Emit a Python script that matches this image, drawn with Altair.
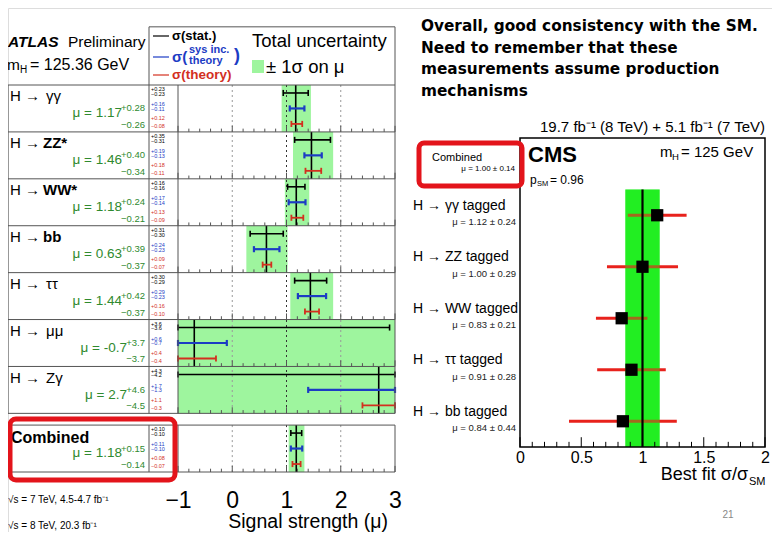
import altair as alt
import pandas as pd

# ===================== data =====================
atlas_channels = ["γγ", "ZZ*", "WW*", "bb", "ττ", "μμ", "Zγ", "Combined"]
atlas_mu       = [1.17, 1.46, 1.18, 0.63, 1.44, -0.7, 2.7, 1.18]
atlas_tot_up   = [0.28, 0.40, 0.24, 0.39, 0.42, 3.7, 4.6, 0.15]
atlas_tot_dn   = [0.26, 0.34, 0.21, 0.37, 0.37, 3.7, 4.5, 0.14]
atlas_stat_up  = [0.23, 0.35, 0.16, 0.31, 0.30, 3.6, 4.3, 0.10]
atlas_stat_dn  = [0.23, 0.31, 0.16, 0.30, 0.29, 3.6, 4.2, 0.10]
atlas_sys_up   = [0.16, 0.19, 0.17, 0.24, 0.29, 0.6, 1.7, 0.11]
atlas_sys_dn   = [0.11, 0.13, 0.14, 0.23, 0.23, 0.7, 1.3, 0.10]
atlas_th_up    = [0.12, 0.18, 0.13, 0.09, 0.16, 0.4, 1.1, 0.08]
atlas_th_dn    = [0.08, 0.11, 0.09, 0.07, 0.10, 0.4, 0.3, 0.07]
atlas_decimals = [2, 2, 2, 2, 2, 1, 1, 2]
atlas_bold     = [False, True, True, True, False, False, False, True]
atlas_ticks    = [-1, 0, 1, 2, 3]

cms_channels = ["H → γγ tagged", "H → ZZ tagged", "H → WW tagged",
                "H → ττ tagged", "H → bb tagged"]
cms_mu       = [1.12, 1.00, 0.83, 0.91, 0.84]
cms_err      = [0.24, 0.29, 0.21, 0.28, 0.44]
cms_comb_mu  = 1.00
cms_comb_err = 0.14
cms_ticks    = [0, 0.5, 1, 1.5, 2]

slide_lines = ["Overall, good consistency with the SM.",
               "Need to remember that these",
               "measurements assume production",
               "mechanisms"]

# ===================== styling =====================
FONT = "Liberation Sans"
BLACK = "#000000"
BLUE = "#1c3cc4"
RED = "#d3301f"
MUGREEN = "#2f8a2f"
ABAND = "#9ef59e"
CBAND = "#22ee22"
CRED = "#e8221c"
BOXRED = "#e3141b"
FRAME = "#555555"


def AX():
    return alt.Scale(domain=[-1, 3], range=[170, 387], nice=False, zero=False, clamp=True)


def AY():
    return alt.Scale(domain=[0, 8.25], range=[77, 464], nice=False, zero=False)


def CX():
    return alt.Scale(domain=[0, 2], range=[512, 757], nice=False, zero=False)


def CY():
    return alt.Scale(domain=[0, 6], range=[130, 439], nice=False, zero=False)


def label(text, x, y, size, color=BLACK, weight="normal", style="normal",
          align="left", font=FONT, baseline="middle"):
    return alt.Chart(pd.DataFrame({"t": [text]})).mark_text(
        align=align, baseline=baseline, font=font, fontSize=size,
        fontWeight=weight, fontStyle=style, color=color
    ).encode(x=alt.value(x), y=alt.value(y), text="t:N")


def seg(x1, x2, y, color, width):
    return alt.Chart(pd.DataFrame({"a": [0]})).mark_rule(
        color=color, strokeWidth=width
    ).encode(x=alt.value(x1), x2=alt.value(x2), y=alt.value(y))


def box(x1, x2, y1, y2, color, width, radius=0, fill=None):
    kw = dict(stroke=color, strokeWidth=width, cornerRadius=radius)
    if fill is None:
        kw["fillOpacity"] = 0
    else:
        kw["fill"] = fill
    return alt.Chart(pd.DataFrame({"a": [0]})).mark_rect(**kw).encode(
        x=alt.value(x1), x2=alt.value(x2), y=alt.value(y1), y2=alt.value(y2))


# ===================== ATLAS tables =====================
n = len(atlas_channels)
A = pd.DataFrame(dict(ch=atlas_channels, mu=atlas_mu, up=atlas_tot_up,
                      dn=atlas_tot_dn, dec=atlas_decimals, bold=atlas_bold))
A["r"] = [i + (0.25 if c == "Combined" else 0.0) for i, c in enumerate(atlas_channels)]
A["r1"] = A["r"] + 1
A["lo"] = A["mu"] - A["dn"]
A["hi"] = A["mu"] + A["up"]
A["mu_t"] = [f"μ = {m:.{d}f}" for m, d in zip(atlas_mu, atlas_decimals)]
A["up_t"] = [f"+{u:.{d}f}" for u, d in zip(atlas_tot_up, atlas_decimals)]
A["dn_t"] = [f"−{v:.{d}f}" for v, d in zip(atlas_tot_dn, atlas_decimals)]
A["y_lab"] = A["r"] + 0.24
A["y_comb"] = A["r"] + 0.28
A["y_mu"] = A["r"] + 0.60
A["y_up"] = A["r"] + 0.50
A["y_dn"] = A["r"] + 0.85
A["is_comb"] = A["ch"] == "Combined"

spec = [("stat", atlas_stat_up, atlas_stat_dn, 0.17, BLACK, 1.6, (0.09, 0.19)),
        ("sys", atlas_sys_up, atlas_sys_dn, 0.50, BLUE, 2.2, (0.41, 0.51)),
        ("theory", atlas_th_up, atlas_th_dn, 0.83, RED, 1.8, (0.71, 0.88))]
bars, caps, nums = [], [], []
for kind, up, dn, off, col, sw, (fu, fd) in spec:
    for i in range(n):
        r = A["r"][i]
        yc = r + off
        lo = atlas_mu[i] - dn[i]
        hi = atlas_mu[i] + up[i]
        bars.append(dict(lo=lo, hi=hi, y=yc, col=col, sw=sw))
        for xv in (lo, hi):
            caps.append(dict(x=xv, y0=yc - 0.065, y1=yc + 0.065, col=col, sw=sw))
        d = atlas_decimals[i]
        nums.append(dict(t=f"+{up[i]:.{d}f}", y=r + fu, col=col))
        nums.append(dict(t=f"−{dn[i]:.{d}f}", y=r + fd, col=col))
B = pd.DataFrame(bars)
Cp = pd.DataFrame(caps)
N = pd.DataFrame(nums)

segments = [(0, 7), (7.25, 8.25)]
grid = pd.DataFrame([dict(x=t, y0=a, y1=b) for t in atlas_ticks[1:-1] for a, b in segments])

row_bottoms = [float(b) for b in range(1, 8)] + [8.25]
tk = []
for b in row_bottoms:
    for k in range(21):
        xv = round(atlas_ticks[0] + 0.2 * k, 3)
        major = abs(xv - round(xv)) < 1e-9
        tk.append(dict(x=xv, y0=b - (0.13 if major else 0.07), y1=b))
TK = pd.DataFrame(tk)

hlines = pd.DataFrame({"y": [float(k) for k in range(8)] + [7.25, 8.25]})
head_top = -1.24
vseg_full = pd.DataFrame([dict(y0=head_top, y1=7), dict(y0=7.25, y1=8.25)])
vseg_rows = pd.DataFrame([dict(y0=0, y1=7), dict(y0=7.25, y1=8.25)])
edge_l = vseg_rows.assign(x=atlas_ticks[0])
edge_r = vseg_full.assign(x=atlas_ticks[-1])

atlas_axis = alt.Axis(orient="bottom", offset=-60, values=atlas_ticks,
                      labelExpr="replace('' + datum.value, '-', '−')",
                      labelFont=FONT, labelFontSize=23, labelColor=BLACK,
                      labelPadding=17, labelFlush=False, labelOverlap=False,
                      ticks=False, domain=False, grid=False, title=None)

L = []
# total-uncertainty bands (carries the ATLAS axis)
L.append(alt.Chart(A).mark_rect(color=ABAND).encode(
    x=alt.X("lo:Q", scale=AX(), axis=atlas_axis), x2="hi:Q",
    y=alt.Y("r:Q", scale=AY(), axis=None), y2="r1:Q"))
# dotted reference lines
L.append(alt.Chart(grid).mark_rule(strokeDash=[2, 3], strokeWidth=1).encode(
    x=alt.X("x:Q", scale=AX(), axis=None),
    y=alt.Y("y0:Q", scale=AY(), axis=None), y2="y1:Q",
    color=alt.condition("datum.x == 1", alt.value("#333333"), alt.value("#999999"))))
# per-row inner ticks
L.append(alt.Chart(TK).mark_rule(color="#555555", strokeWidth=1).encode(
    x=alt.X("x:Q", scale=AX(), axis=None),
    y=alt.Y("y0:Q", scale=AY(), axis=None), y2="y1:Q"))
# central value lines
L.append(alt.Chart(A).mark_rule(color=BLACK, strokeWidth=1.6).encode(
    x=alt.X("mu:Q", scale=AX(), axis=None),
    y=alt.Y("r:Q", scale=AY(), axis=None), y2="r1:Q"))
# error bars and caps
L.append(alt.Chart(B).mark_rule().encode(
    x=alt.X("lo:Q", scale=AX(), axis=None), x2="hi:Q",
    y=alt.Y("y:Q", scale=AY(), axis=None),
    color=alt.Color("col:N", scale=None),
    strokeWidth=alt.StrokeWidth("sw:Q", scale=None)))
L.append(alt.Chart(Cp).mark_rule().encode(
    x=alt.X("x:Q", scale=AX(), axis=None),
    y=alt.Y("y0:Q", scale=AY(), axis=None), y2="y1:Q",
    color=alt.Color("col:N", scale=None),
    strokeWidth=alt.StrokeWidth("sw:Q", scale=None)))
# table frame
L.append(alt.Chart(hlines).mark_rule(color=FRAME, strokeWidth=1).encode(
    x=alt.value(0), x2=alt.value(387), y=alt.Y("y:Q", scale=AY(), axis=None)))
L.append(alt.Chart(pd.DataFrame({"y": [head_top]})).mark_rule(color=FRAME, strokeWidth=1).encode(
    x=alt.value(141), x2=alt.value(387), y=alt.Y("y:Q", scale=AY(), axis=None)))
L.append(alt.Chart(vseg_rows).mark_rule(color=FRAME, strokeWidth=1).encode(
    x=alt.value(0), y=alt.Y("y0:Q", scale=AY(), axis=None), y2="y1:Q"))
L.append(alt.Chart(vseg_full).mark_rule(color=FRAME, strokeWidth=1).encode(
    x=alt.value(141), y=alt.Y("y0:Q", scale=AY(), axis=None), y2="y1:Q"))
L.append(alt.Chart(edge_l).mark_rule(color=FRAME, strokeWidth=1).encode(
    x=alt.X("x:Q", scale=AX(), axis=None),
    y=alt.Y("y0:Q", scale=AY(), axis=None), y2="y1:Q"))
L.append(alt.Chart(edge_r).mark_rule(color=FRAME, strokeWidth=1).encode(
    x=alt.X("x:Q", scale=AX(), axis=None),
    y=alt.Y("y0:Q", scale=AY(), axis=None), y2="y1:Q"))
# tiny numbers column
L.append(alt.Chart(N).mark_text(align="left", baseline="middle", font=FONT, fontSize=5.5).encode(
    x=alt.value(143), y=alt.Y("y:Q", scale=AY(), axis=None),
    color=alt.Color("col:N", scale=None), text="t:N"))
# channel labels
L.append(alt.Chart(A).transform_filter("!datum.is_comb").mark_text(
    align="left", baseline="middle", font=FONT, fontSize=15).encode(
    x=alt.value(2), y=alt.Y("y_lab:Q", scale=AY(), axis=None), text=alt.value("H →")))
L.append(alt.Chart(A).transform_filter("!datum.is_comb && datum.bold").mark_text(
    align="left", baseline="middle", font=FONT, fontSize=15, fontWeight="bold").encode(
    x=alt.value(35), y=alt.Y("y_lab:Q", scale=AY(), axis=None), text="ch:N"))
L.append(alt.Chart(A).transform_filter("!datum.is_comb && !datum.bold").mark_text(
    align="left", baseline="middle", font=FONT, fontSize=15).encode(
    x=alt.value(38), y=alt.Y("y_lab:Q", scale=AY(), axis=None), text="ch:N"))
L.append(alt.Chart(A).transform_filter("datum.is_comb").mark_text(
    align="left", baseline="middle", font=FONT, fontSize=16, fontWeight="bold").encode(
    x=alt.value(3), y=alt.Y("y_comb:Q", scale=AY(), axis=None), text="ch:N"))
# mu values with super/subscripts
L.append(alt.Chart(A).transform_filter("datum.dec == 2").mark_text(
    align="right", baseline="middle", font=FONT, fontSize=13.5, color=MUGREEN).encode(
    x=alt.value(114), y=alt.Y("y_mu:Q", scale=AY(), axis=None), text="mu_t:N"))
L.append(alt.Chart(A).transform_filter("datum.dec == 1").mark_text(
    align="right", baseline="middle", font=FONT, fontSize=13.5, color=MUGREEN).encode(
    x=alt.value(119), y=alt.Y("y_mu:Q", scale=AY(), axis=None), text="mu_t:N"))
L.append(alt.Chart(A).mark_text(
    align="right", baseline="middle", font=FONT, fontSize=9.5, color=MUGREEN).encode(
    x=alt.value(137), y=alt.Y("y_up:Q", scale=AY(), axis=None), text="up_t:N"))
L.append(alt.Chart(A).mark_text(
    align="right", baseline="middle", font=FONT, fontSize=9.5, color=MUGREEN).encode(
    x=alt.value(137), y=alt.Y("y_dn:Q", scale=AY(), axis=None), text="dn_t:N"))

# ATLAS header
L += [
    label("ATLAS", 0, 34, 15.5, weight="bold", style="italic"),
    label("Preliminary", 60, 34, 15.5),
    label("m", -1, 57, 15.5),
    label("H", 12, 62, 10),
    label("= 125.36 GeV", 22, 57, 16),
    seg(145, 161, 28, BLACK, 1.2),
    label("σ(stat.)", 164, 28, 13, weight="bold"),
    seg(145, 161, 49, BLUE, 1.2),
    label("σ(", 164, 49, 15, color=BLUE, weight="bold"),
    label("sys inc.", 181, 42, 11, color=BLUE, weight="bold"),
    label("theory", 181, 53, 11, color=BLUE, weight="bold"),
    label(")", 226, 48, 18, color=BLUE, weight="bold"),
    seg(145, 161, 67, RED, 1.2),
    label("σ(theory)", 164, 67, 13.5, color=RED, weight="bold"),
    label("Total uncertainty", 244, 33, 18.5),
    box(244, 256, 52, 65, ABAND, 0, fill=ABAND),
    label("± 1σ on μ", 258, 59, 18.5),
    label("Signal strength (μ)", 380, 520, 19.5, align="right", baseline="alphabetic"),
    label("√s = 7 TeV, 4.5-4.7 fb⁻¹", 0, 492, 10),
    label("√s = 8 TeV, 20.3 fb⁻¹", 0, 518, 10),
    box(2, 167, 411, 472, BOXRED, 5, radius=6),
]

# ===================== CMS tables =====================
C = pd.DataFrame(dict(ch=cms_channels, mu=cms_mu, err=cms_err))
C["row"] = [i + 1.5 for i in range(len(cms_channels))]
C["lo"] = C["mu"] - C["err"]
C["hi"] = C["mu"] + C["err"]
C["y_lab"] = C["row"] - 0.18
C["y_mu"] = C["row"] + 0.14
C["mu_t"] = [f"μ = {m:.2f} ± {e:.2f}" for m, e in zip(cms_mu, cms_err)]
band = pd.DataFrame(dict(lo=[cms_comb_mu - cms_comb_err], hi=[cms_comb_mu + cms_comb_err],
                         mu=[cms_comb_mu], y0=[1.0], y1=[6.0]))
frame = pd.DataFrame(dict(x0=[cms_ticks[0]], x1=[cms_ticks[-1]], y0=[0.0], y1=[6.0]))
ctk = []
for k in range(21):
    xv = round(cms_ticks[0] + 0.1 * k, 3)
    major = abs(xv * 2 - round(xv * 2)) < 1e-9
    ctk.append(dict(x=xv, y0=6.0 - (0.19 if major else 0.1), y1=6.0))
CTK = pd.DataFrame(ctk)

cms_axis = alt.Axis(orient="bottom", offset=-85, values=cms_ticks,
                    labelExpr="'' + datum.value", labelFont=FONT, labelFontSize=16,
                    labelColor=BLACK, labelPadding=2, labelFlush=False,
                    labelOverlap=False, ticks=False, domain=False, grid=False, title=None)

L.append(alt.Chart(band).mark_rect(color=CBAND).encode(
    x=alt.X("lo:Q", scale=CX(), axis=cms_axis), x2="hi:Q",
    y=alt.Y("y0:Q", scale=CY(), axis=None), y2="y1:Q"))
L.append(alt.Chart(C).mark_rule(color=CRED, strokeWidth=3).encode(
    x=alt.X("lo:Q", scale=CX(), axis=None), x2="hi:Q",
    y=alt.Y("row:Q", scale=CY(), axis=None)))
L.append(alt.Chart(band).mark_rect(color=CBAND, opacity=0.35).encode(
    x=alt.X("lo:Q", scale=CX(), axis=None), x2="hi:Q",
    y=alt.Y("y0:Q", scale=CY(), axis=None), y2="y1:Q"))
L.append(alt.Chart(band).mark_rule(color=BLACK, strokeWidth=2.2).encode(
    x=alt.X("mu:Q", scale=CX(), axis=None),
    y=alt.Y("y0:Q", scale=CY(), axis=None), y2="y1:Q"))
L.append(alt.Chart(C).mark_square(color=BLACK, size=150, opacity=1).encode(
    x=alt.X("mu:Q", scale=CX(), axis=None),
    y=alt.Y("row:Q", scale=CY(), axis=None)))
L.append(alt.Chart(frame).mark_rect(fillOpacity=0, stroke=BLACK, strokeWidth=1.5).encode(
    x=alt.X("x0:Q", scale=CX(), axis=None), x2="x1:Q",
    y=alt.Y("y0:Q", scale=CY(), axis=None), y2="y1:Q"))
L.append(alt.Chart(CTK).mark_rule(color=BLACK, strokeWidth=1).encode(
    x=alt.X("x:Q", scale=CX(), axis=None),
    y=alt.Y("y0:Q", scale=CY(), axis=None), y2="y1:Q"))
L.append(alt.Chart(C).mark_text(align="left", baseline="middle", font=FONT, fontSize=14).encode(
    x=alt.value(405), y=alt.Y("y_lab:Q", scale=CY(), axis=None), text="ch:N"))
L.append(alt.Chart(C).mark_text(align="right", baseline="middle", font=FONT, fontSize=9.5,
                                color="#222222").encode(
    x=alt.value(508), y=alt.Y("y_mu:Q", scale=CY(), axis=None), text="mu_t:N"))

L += [
    label("19.7 fb⁻¹ (8 TeV) +  5.1 fb⁻¹ (7 TeV)", 757, 119, 15, align="right"),
    label("CMS", 520, 147, 22, weight="bold"),
    label("m", 652, 144, 15),
    label("H", 664, 149, 9.5),
    label("= 125 GeV", 673, 144, 15),
    label("p", 522, 172, 12),
    label("SM", 529, 176, 7.5),
    label("= 0.96", 542, 172, 12),
    label("Combined", 424, 150, 11),
    label(f"μ = {cms_comb_mu:.2f} ± {cms_comb_err:.2f}", 507, 161, 8, align="right"),
    box(411, 514, 135, 178, BOXRED, 5, radius=5),
    label("Best fit σ/σ", 740, 467, 18, align="right"),
    label("SM", 741, 474, 11),
]

# slide text and page number
for i, line in enumerate(slide_lines):
    L.append(label(line, 413, 18 + 21.7 * i, 15.3, weight="bold", font="DejaVu Sans"))
L.append(label("21", 720, 507, 10, color="#888888", align="center"))

chart = alt.layer(*L).resolve_scale(x="independent", y="independent").properties(
    width=764, height=524, padding=0,
    autosize=alt.AutoSizeParams(type="none"),
).configure_view(stroke=None).configure(background="white")

chart.save("out.html", embed_options={"renderer": "svg", "actions": False})
